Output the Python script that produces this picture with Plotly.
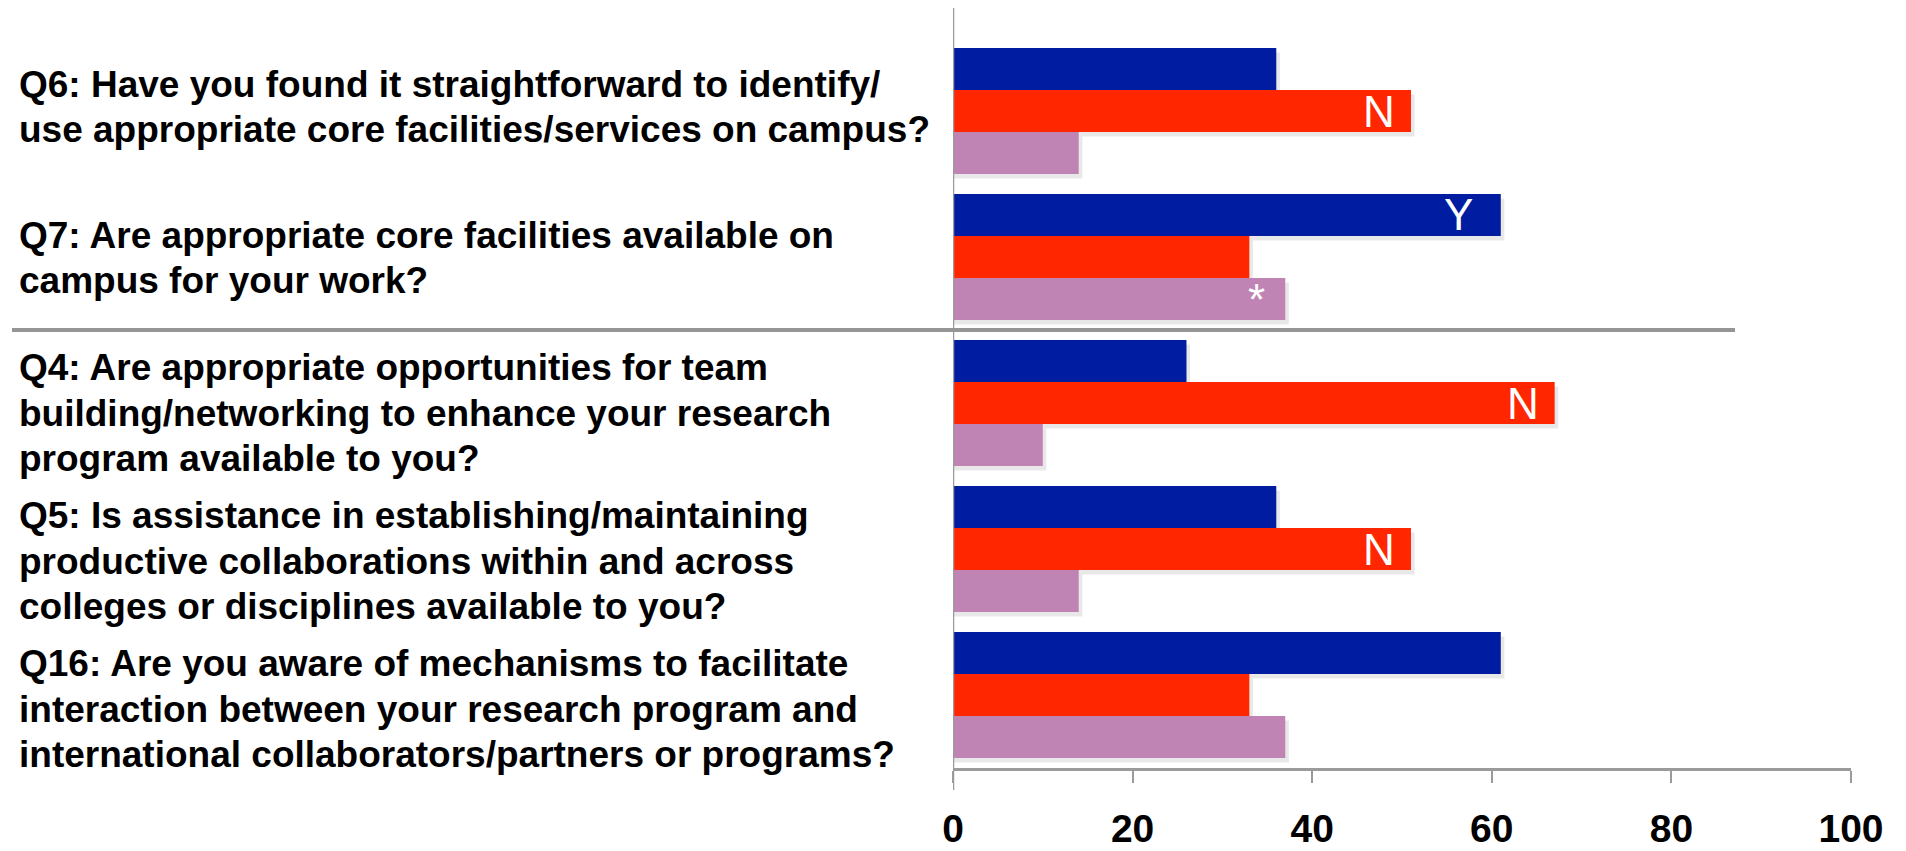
import plotly.graph_objects as go

# Survey questions, top to bottom
categories = ["Q6", "Q7", "Q4", "Q5", "Q16"]
question_labels = [
    "Q6: Have you found it straightforward to identify/<br>use appropriate core facilities/services on campus?",
    "Q7: Are appropriate core facilities available on<br>campus for your work?",
    "Q4: Are appropriate opportunities for team<br>building/networking to enhance your research<br>program available to you?",
    "Q5: Is assistance in establishing/maintaining<br>productive collaborations within and across<br>colleges or disciplines available to you?",
    "Q16: Are you aware of mechanisms to facilitate<br>interaction between your research program and<br>international collaborators/partners or programs?",
]

# Percentage of responses per answer
yes_pct = [36, 61, 26, 36, 61]
no_pct = [51, 33, 67, 51, 33]
unsure_pct = [14, 37, 10, 14, 37]

x_ticks = [0, 20, 40, 60, 80, 100]

# In-bar flags: (series index, question, text, pixel inset from bar end)
flags = [
    (1, "Q6", "N", 14),
    (0, "Q7", "Y", 26),
    (2, "Q7", "*", 18),
    (1, "Q4", "N", 14),
    (1, "Q5", "N", 14),
]

series = [
    ("Yes", yes_pct, "#001DA1"),
    ("No", no_pct, "#FF2600"),
    ("Not sure", unsure_pct, "#BF84B3"),
]

W, H = 1906, 851
M_L, M_R, M_T, M_B = 953, 55, 38, 83
plot_w = W - M_L - M_R
plot_h = H - M_T - M_B
band_px = plot_h / len(categories)

bar_w = 0.288
offsets = [-1.5 * bar_w + k * bar_w for k in range(3)]

fig = go.Figure()

# soft drop shadows behind each bar
shadow_dy = 4.5 / band_px
shadow_dx = 0.4
for k, (name, vals, color) in enumerate(series):
    fig.add_trace(go.Bar(
        y=categories, x=[v + shadow_dx for v in vals], orientation="h",
        width=bar_w, offset=offsets[k] + shadow_dy,
        marker=dict(color="rgba(0,0,0,0.09)", line=dict(width=0)),
        hoverinfo="skip", showlegend=False,
    ))

for k, (name, vals, color) in enumerate(series):
    fig.add_trace(go.Bar(
        y=categories, x=vals, orientation="h", name=name,
        width=bar_w, offset=offsets[k],
        marker=dict(color=color, line=dict(width=0)),
        showlegend=False,
    ))

annotations = []

# question labels on the left, one annotation per line for tighter leading
label_x = (17 - M_L) / plot_w
label_shift = [4, -1, -10, -12, -14]
line_gap = 45.5
for cat, text, dy in zip(categories, question_labels, label_shift):
    lines = text.split("<br>")
    n = len(lines)
    for j, line in enumerate(lines):
        annotations.append(dict(
            x=label_x, xref="paper", y=cat, yref="y",
            text=line, showarrow=False, xanchor="left", yanchor="middle", align="left",
            yshift=dy - (j - (n - 1) / 2) * line_gap,
            font=dict(family="Liberation Sans, Arial, sans-serif", size=37, color="#000000",
                      weight="bold"),
        ))

# white flags at the end of selected bars
for s_idx, cat, txt, inset in flags:
    i = categories.index(cat)
    val = series[s_idx][1][i]
    centre_off = offsets[s_idx] + bar_w / 2
    annotations.append(dict(
        x=val, xref="x", y=cat, yref="y",
        text=txt, showarrow=False, xanchor="right", yanchor="middle",
        xshift=-inset, yshift=-centre_off * band_px,
        font=dict(family="Liberation Sans, Arial, sans-serif", size=44, color="#FFFFFF"),
    ))

fig.update_layout(annotations=annotations)

# vertical value-axis origin line, running past the plot edges
fig.add_shape(type="line", xref="x", yref="paper", x0=0, x1=0,
              y0=-(790 - (H - M_B)) / plot_h, y1=1 + (M_T - 8) / plot_h,
              line=dict(color="#9A9A9A", width=2.5))

# divider between question groups
fig.add_shape(type="line", xref="paper", yref="y",
              x0=(12 - M_L) / plot_w, x1=(1735 - M_L) / plot_w, y0=1.5, y1=1.5,
              line=dict(color="#959595", width=4))

fig.update_layout(
    width=W, height=H,
    margin=dict(l=M_L, r=M_R, t=M_T, b=M_B, pad=0, autoexpand=False),
    barmode="overlay",
    plot_bgcolor="#FFFFFF", paper_bgcolor="#FFFFFF",
    xaxis=dict(
        range=[0, 100], tickvals=x_ticks, ticktext=[str(t) for t in x_ticks],
        showgrid=False, zeroline=False, automargin=False,
        showline=True, linecolor="#9A9A9A", linewidth=2.5,
        ticks="outside", ticklen=12, tickwidth=2, tickcolor="#9A9A9A",
        ticklabelstandoff=12,
        tickfont=dict(family="Liberation Sans, Arial, sans-serif", size=39, color="#000000",
                      weight="bold"),
        fixedrange=True,
    ),
    yaxis=dict(
        categoryorder="array", categoryarray=categories,
        autorange="reversed", showticklabels=False, showgrid=False,
        zeroline=False, showline=False, ticks="", automargin=False,
        fixedrange=True,
    ),
)

fig.write_html("out.html")
